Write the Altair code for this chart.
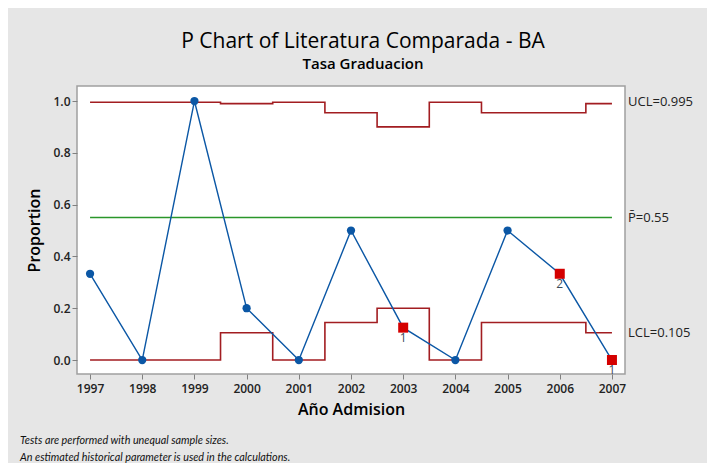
import altair as alt
import pandas as pd

years = list(range(1997, 2008))
proportion = [0.333, 0.0, 1.0, 0.2, 0.0, 0.5, 0.125, 0.0, 0.5, 0.333, 0.0]
ucl = [0.995, 0.995, 0.995, 0.99, 0.995, 0.955, 0.90, 0.995, 0.955, 0.955, 0.99]
lcl = [0.0, 0.0, 0.0, 0.105, 0.0, 0.145, 0.2, 0.0, 0.145, 0.145, 0.105]
flag_years = [2003, 2006, 2007]
flag_tests = ["1", "2", "1"]
center_value = 0.55
limit_labels = ["UCL=0.995", "P\u0304=0.55", "LCL=0.105"]
limit_values = [0.995, 0.55, 0.105]
footnotes = [
    "Tests are performed with unequal sample sizes.",
    "An estimated historical parameter is used in the calculations.",
]

W, H = 548, 288
FONT = "Open Sans"
FOOT_FONT = "Lato"
BLUE = "#0b57a5"
RED = "#d40000"
LIMIT = "#a21d21"
GREEN = "#2a962a"

df = pd.DataFrame({"year": years, "p": proportion, "ucl": ucl, "lcl": lcl})
flags = df[df["year"].isin(flag_years)].copy()
flags["test"] = flag_tests
center_df = pd.DataFrame({"x1": [years[0]], "x2": [years[-1]], "c": [center_value]})
lim_df = pd.DataFrame({"label": limit_labels, "v": limit_values})

xscale = alt.Scale(domain=[1996.75, 2007.25], nice=False, zero=False)
yscale = alt.Scale(domain=[-0.054, 1.058], nice=False, zero=False)

x_enc = alt.X(
    "year:Q",
    scale=xscale,
    title="Año Admision",
    axis=alt.Axis(
        values=years, format="d", grid=False, domain=False,
        tickSize=5, tickColor="#808080", labelFont=FONT, labelFontSize=12,
        labelFontWeight=600, labelColor="#222222", labelPadding=4,
        titleFont=FONT, titleFontSize=16, titleFontWeight=600, titleColor="#000000",
        titlePadding=7,
    ),
)
y_axis = alt.Axis(
    values=[0, 0.2, 0.4, 0.6, 0.8, 1.0], format=".1f", grid=False, domain=False,
    tickSize=5, tickColor="#808080", labelFont=FONT, labelFontSize=12,
    labelFontWeight=600, labelColor="#222222", labelPadding=2,
    titleFont=FONT, titleFontSize=16, titleFontWeight=600, titleColor="#000000",
    titlePadding=10,
)

ucl_line = alt.Chart(df).mark_line(interpolate="step", color=LIMIT, strokeWidth=1.6).encode(
    x=x_enc, y=alt.Y("ucl:Q", scale=yscale, axis=y_axis, title="Proportion")
)
lcl_line = alt.Chart(df).mark_line(interpolate="step", color=LIMIT, strokeWidth=1.6).encode(
    x="year:Q", y="lcl:Q"
)
center_rule = alt.Chart(center_df).mark_rule(color=GREEN, strokeWidth=1.6).encode(
    x="x1:Q", x2="x2:Q", y="c:Q"
)
p_line = alt.Chart(df).mark_line(color=BLUE, strokeWidth=1.4).encode(x="year:Q", y="p:Q")
p_points = alt.Chart(df).mark_point(filled=True, shape="circle", size=68, color=BLUE, opacity=1).encode(
    x="year:Q", y="p:Q"
)
flag_points = alt.Chart(flags).mark_point(filled=True, shape="square", size=100, color=RED, opacity=1).encode(
    x="year:Q", y="p:Q"
)
flag_text = alt.Chart(flags).mark_text(font=FONT, fontSize=12, color="#3a4a5a", dy=10, baseline="middle").encode(
    x="year:Q", y="p:Q", text="test:N"
)
lim_text = alt.Chart(lim_df).mark_text(font=FONT, fontSize=13, color="#222222", align="left", baseline="middle").encode(
    x=alt.value(W + 3), y="v:Q", text="label:N"
)
foot1 = alt.Chart(pd.DataFrame({"t": [footnotes[0]]})).mark_text(
    font=FOOT_FONT, fontSize=10.8, fontStyle="italic", color="#111111", align="left", baseline="alphabetic"
).encode(x=alt.value(-57), y=alt.value(358), text="t:N")
foot2 = alt.Chart(pd.DataFrame({"t": [footnotes[1]]})).mark_text(
    font=FOOT_FONT, fontSize=10.8, fontStyle="italic", color="#111111", align="left", baseline="alphabetic"
).encode(x=alt.value(-57), y=alt.value(375), text="t:N")

chart = alt.layer(
    ucl_line, lcl_line, center_rule, p_line, p_points, flag_points, flag_text, lim_text, foot1, foot2
).properties(
    width=W, height=H,
    title=alt.TitleParams(
        text="P Chart of Literatura Comparada - BA",
        subtitle="Tasa Graduacion",
        anchor="middle", dx=12, font=FONT, fontSize=21, fontWeight="normal", color="#000000",
        subtitleFont=FONT, subtitleFontSize=15, subtitleFontWeight=600, subtitleColor="#000000",
        subtitlePadding=5, offset=14,
    ),
    autosize=alt.AutoSizeParams(type="none"),
    padding={"left": 69, "top": 78, "right": 82, "bottom": 89},
    background="#e6e6e6",
).configure_view(stroke="#a0a0a0", strokeWidth=1.5, fill="#ffffff")

chart.save("out.html", embed_options={"renderer": "svg", "actions": False})
